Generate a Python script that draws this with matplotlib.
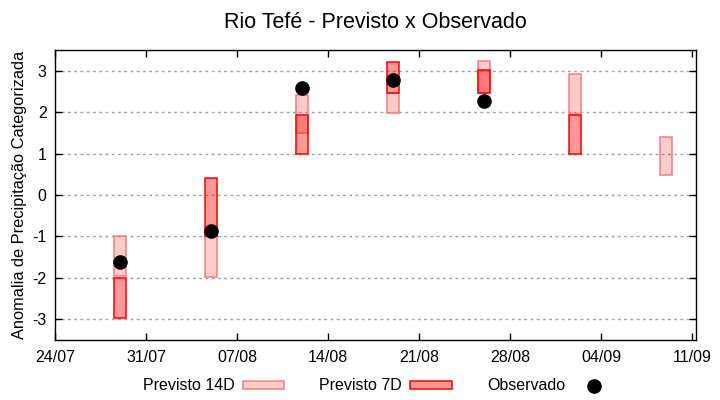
import numpy as np
import matplotlib
matplotlib.use('Agg')
import matplotlib.pyplot as plt
import matplotlib.dates as mdates
from matplotlib.patches import Patch
from matplotlib.lines import Line2D
from datetime import datetime

plt.rcParams['font.family'] = ['Liberation Sans', 'DejaVu Sans']

# datas das previsoes (semanal)
dates = ['29/07', '05/08', '12/08', '19/08', '26/08', '02/09', '09/09']
p14_low = [-1.95, -1.97, 1.49, 1.98, 2.47, 1.96, 0.48]
p14_high = [-1.0, -1.0, 2.41, 2.47, 3.23, 2.91, 1.40]
p7_low = [-2.97, -1.0, 1.0, 2.47, 2.47, 1.0, np.nan]
p7_high = [-2.0, 0.41, 1.93, 3.22, 3.01, 1.93, np.nan]
observed = [-1.62, -0.87, 2.58, 2.77, 2.27, np.nan, np.nan]

tick_labels = ['24/07', '31/07', '07/08', '14/08', '21/08', '28/08', '04/09', '11/09']

YEAR = 2023
def to_dt(s):
    d, m = s.split('/')
    return datetime(YEAR, int(m), int(d))

x = mdates.date2num([to_dt(d) for d in dates])
ticks = mdates.date2num([to_dt(t) for t in tick_labels])

p14_low = np.array(p14_low); p14_high = np.array(p14_high)
p7_low = np.array(p7_low); p7_high = np.array(p7_high)

fig = plt.figure(figsize=(7.2, 4.0), dpi=100)
ax = fig.add_axes([0.0764, 0.15, 0.8903, 0.725])

width = 0.95
c14_face = (1, 0, 0, 0.2)
c14_edge = (0.94, 0.5, 0.5)
c7_face = (1, 0, 0, 0.4)
c7_edge = (1, 0, 0)

ax.bar(x, p14_high - p14_low, bottom=p14_low, width=width,
       facecolor=c14_face, edgecolor=c14_edge, linewidth=1.1, zorder=2)
m7 = ~np.isnan(p7_low)
ax.bar(x[m7], (p7_high - p7_low)[m7], bottom=p7_low[m7], width=width,
       facecolor=c7_face, edgecolor=c7_edge, linewidth=1.1, zorder=3)
ax.plot(x, observed, 'o', color='black', markersize=9.5, zorder=4, linestyle='none')

ax.set_xlim(ticks[0], ticks[-1] + 0.3)
ax.set_ylim(-3.5, 3.5)
ax.set_xticks(ticks)
ax.set_xticklabels(tick_labels)
ax.set_yticks([-3, -2, -1, 0, 1, 2, 3])
ax.set_yticklabels(['-3', '-2', '-1', '0', '1', '2', '3'])
ax.tick_params(direction='in', top=True, right=True, length=5, width=1,
               labelsize=11.5, pad=6)
ax.tick_params(axis='x', pad=7)
ax.yaxis.grid(True, linestyle=(0, (2, 2.5)), color='#a0a0a0', linewidth=1, zorder=0)
ax.set_axisbelow(True)
for sp in ax.spines.values():
    sp.set_linewidth(1)

ax.set_ylabel('Anomalia de Precipitação Categorizada', fontsize=11.8, labelpad=4)
fig.suptitle('Rio Tefé - Previsto x Observado', fontsize=15.5, x=0.521, y=0.97)

handles = [Patch(facecolor=c14_face, edgecolor=c14_edge, linewidth=1.1),
           Patch(facecolor=c7_face, edgecolor=c7_edge, linewidth=1.1),
           Line2D([], [], marker='o', color='black', linestyle='none', markersize=9.5)]
fig.legend(handles, ['Previsto 14D', 'Previsto 7D', 'Observado'],
           loc='center', bbox_to_anchor=(0.526, 0.035), ncol=3, frameon=False,
           markerfirst=False, fontsize=11.5, handlelength=2.6, handleheight=0.4,
           handletextpad=0.5, columnspacing=2.2)

fig.savefig('out.png', dpi=100)
